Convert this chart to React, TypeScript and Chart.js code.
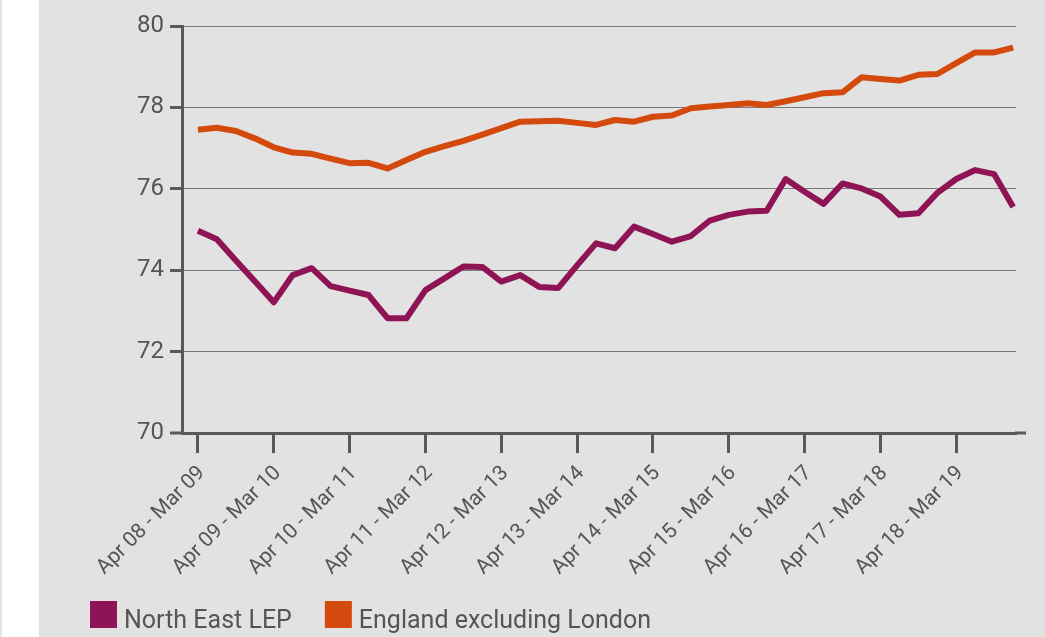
import React, { useEffect, useRef } from 'react';
import { Chart, registerables } from 'chart.js';

Chart.register(...registerables);

const periods = [
  'Apr 08 - Mar 09', 'Jul 08 - Jun 09', 'Oct 08 - Sep 09', 'Jan 09 - Dec 09',
  'Apr 09 - Mar 10', 'Jul 09 - Jun 10', 'Oct 09 - Sep 10', 'Jan 10 - Dec 10',
  'Apr 10 - Mar 11', 'Jul 10 - Jun 11', 'Oct 10 - Sep 11', 'Jan 11 - Dec 11',
  'Apr 11 - Mar 12', 'Jul 11 - Jun 12', 'Oct 11 - Sep 12', 'Jan 12 - Dec 12',
  'Apr 12 - Mar 13', 'Jul 12 - Jun 13', 'Oct 12 - Sep 13', 'Jan 13 - Dec 13',
  'Apr 13 - Mar 14', 'Jul 13 - Jun 14', 'Oct 13 - Sep 14', 'Jan 14 - Dec 14',
  'Apr 14 - Mar 15', 'Jul 14 - Jun 15', 'Oct 14 - Sep 15', 'Jan 15 - Dec 15',
  'Apr 15 - Mar 16', 'Jul 15 - Jun 16', 'Oct 15 - Sep 16', 'Jan 16 - Dec 16',
  'Apr 16 - Mar 17', 'Jul 16 - Jun 17', 'Oct 16 - Sep 17', 'Jan 17 - Dec 17',
  'Apr 17 - Mar 18', 'Jul 17 - Jun 18', 'Oct 17 - Sep 18', 'Jan 18 - Dec 18',
  'Apr 18 - Mar 19', 'Jul 18 - Jun 19', 'Oct 18 - Sep 19', 'Jan 19 - Dec 19',
];

// indexes of the periods that carry an axis label
const labelledPeriods = [0, 4, 8, 12, 16, 20, 24, 28, 32, 36, 40];

const northEastLEP = [
  74.97, 74.76, 74.24, 73.73, 73.21, 73.88, 74.05, 73.61, 73.50, 73.39,
  72.82, 72.82, 73.51, 73.80, 74.09, 74.08, 73.72, 73.88, 73.59, 73.56,
  74.12, 74.66, 74.54, 75.07, 74.89, 74.70, 74.84, 75.22, 75.36, 75.44,
  75.46, 76.24, 75.93, 75.63, 76.13, 76.01, 75.81, 75.36, 75.40, 75.90,
  76.24, 76.46, 76.36, 75.55,
];

const englandExLondon = [
  77.45, 77.50, 77.42, 77.24, 77.02, 76.89, 76.86, 76.74, 76.63, 76.64,
  76.50, 76.71, 76.91, 77.05, 77.18, 77.33, 77.49, 77.65, 77.66, 77.67,
  77.62, 77.57, 77.69, 77.65, 77.77, 77.80, 77.98, 78.02, 78.06, 78.10,
  78.06, 78.15, 78.25, 78.35, 78.37, 78.74, 78.70, 78.66, 78.80, 78.82,
  79.09, 79.35, 79.35, 79.47,
];

const seriesNames = ['North East LEP', 'England excluding London'];
const seriesColors = ['#8e1456', '#d34a0c'];

const yMin = 70;
const yMax = 80;
const yStep = 2;

const AXIS = '#595959';
const TEXT = '#555555';
const FONT = 'Roboto, "Open Sans", sans-serif';

const extraPlugin = {
  id: 'extras',
  afterDraw(chart: any) {
    const { ctx, chartArea } = chart;
    ctx.save();
    // x axis line overshoot to the right
    ctx.strokeStyle = AXIS;
    ctx.lineWidth = 3;
    ctx.beginPath();
    ctx.moveTo(chartArea.right - 1, chartArea.bottom);
    ctx.lineTo(chartArea.right + 10, chartArea.bottom);
    ctx.stroke();

    // legend
    ctx.font = `25px ${FONT}`;
    ctx.textBaseline = 'alphabetic';
    ctx.textAlign = 'left';
    let x = 90;
    const top = 601;
    const box = 27;
    chart.data.datasets.forEach((ds: any) => {
      ctx.fillStyle = ds.borderColor;
      ctx.fillRect(x, top, box, box);
      ctx.fillStyle = TEXT;
      ctx.fillText(ds.label, x + box + 7, top + box);
      x += box + 7 + ctx.measureText(ds.label).width + 33;
    });
    ctx.restore();
  },
};

export default function App() {
  const canvasRef = useRef<HTMLCanvasElement | null>(null);

  useEffect(() => {
    if (!canvasRef.current) return;
    Chart.defaults.font.family = FONT;
    const chart = new Chart(canvasRef.current, {
      type: 'line',
      data: {
        datasets: [
          {
            label: seriesNames[0],
            data: northEastLEP.map((v, i) => ({ x: i, y: v })),
            borderColor: seriesColors[0],
            backgroundColor: seriesColors[0],
            borderWidth: 6,
            pointRadius: 0,
            tension: 0,
            borderJoinStyle: 'round',
            order: 1,
          },
          {
            label: seriesNames[1],
            data: englandExLondon.map((v, i) => ({ x: i, y: v })),
            borderColor: seriesColors[1],
            backgroundColor: seriesColors[1],
            borderWidth: 6,
            pointRadius: 0,
            tension: 0,
            borderJoinStyle: 'round',
            order: 2,
          },
        ],
      },
      options: {
        responsive: false,
        animation: false,
        layout: { padding: { top: 26, right: 29, left: 0, bottom: 0 } },
        plugins: {
          legend: { display: false },
          tooltip: { enabled: false },
        },
        scales: {
          x: {
            type: 'linear',
            min: -0.84,
            max: 43.15,
            afterBuildTicks: (scale: any) => {
              scale.ticks = labelledPeriods.map((v) => ({ value: v }));
            },
            afterFit: (scale: any) => {
              scale.height = 204;
            },
            grid: {
              drawOnChartArea: false,
              drawTicks: true,
              tickLength: 20,
              tickWidth: 3,
              tickColor: AXIS,
            },
            border: { display: true, color: AXIS, width: 3 },
            ticks: {
              autoSkip: false,
              maxRotation: 45,
              minRotation: 45,
              padding: 8,
              labelOffset: 4,
              color: TEXT,
              font: { size: 21, family: FONT },
              callback: (value: any) => periods[Number(value)] ?? '',
            },
          },
          y: {
            min: yMin,
            max: yMax,
            afterFit: (scale: any) => {
              scale.width = 182;
            },
            grid: {
              color: '#7a7a7a',
              lineWidth: (c: any) => (c.tick && c.tick.value === yMin ? 0 : 1),
              tickLength: 12,
              tickWidth: 3,
              tickColor: AXIS,
            },
            border: { display: true, color: AXIS, width: 3 },
            ticks: {
              stepSize: yStep,
              padding: 6,
              color: TEXT,
              font: { size: 24, family: FONT },
            },
          },
        },
      },
      plugins: [extraPlugin],
    });
    return () => chart.destroy();
  }, []);

  return (
    <div style={{ position: 'fixed', left: 0, top: 0, width: 1045, height: 637, background: '#ffffff', overflow: 'hidden' }}>
      <div style={{ position: 'absolute', left: 0, top: 0, width: 2, height: 637, background: '#e4e4e4' }} />
      <div style={{ position: 'absolute', left: 39, top: 0, width: 1006, height: 637, background: '#e2e2e2' }} />
      <canvas
        ref={canvasRef}
        width={1045}
        height={637}
        style={{ position: 'absolute', left: 0, top: 0, width: 1045, height: 637 }}
      />
    </div>
  );
}
